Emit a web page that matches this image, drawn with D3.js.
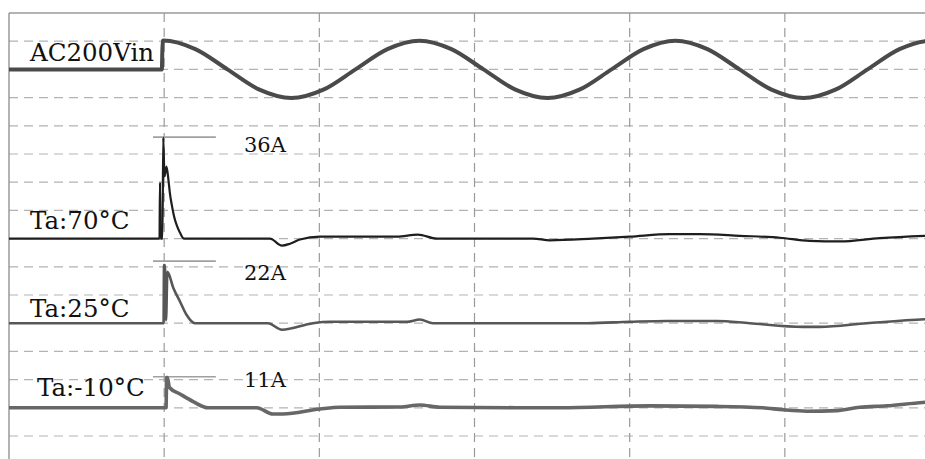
<!DOCTYPE html>
<html>
<head>
<meta charset="utf-8">
<script src="https://cdn.jsdelivr.net/npm/d3@7"></script>
<style>
  html, body { margin: 0; padding: 0; background: #fff; }
  svg { display: block; }
  text { font-family: "DejaVu Serif", "Liberation Serif", serif; fill: #111; }
</style>
</head>
<body>
<svg id="chart" width="925" height="459"></svg>
<script>
// ---------------- data (time in ms, voltage in V, current in A) ----------------
const vinTime = [0, 9.85, 9.9, 9.95, 12.01, 14.08, 16.14, 18.2, 20.26, 22.33, 24.39, 26.45, 28.51, 30.58, 32.64, 34.7, 36.76, 38.83, 40.89, 42.95, 45.01, 47.08, 49.14, 51.2, 53.26, 55.33, 57.39, 59.45, 60];
const vinVolt = [0, 0, 290, 292, 205, 0, -205, -290, -205, 0, 205, 290, 205, 0, -205, -290, -205, 0, 205, 290, 205, 0, -205, -290, -205, 0, 205, 290, 287];

const t70 = [0, 9.70, 9.73, 9.77, 9.89, 9.94, 10.02, 10.15, 10.28, 10.37, 10.50, 10.66, 10.82, 11.02, 11.28, 16.82, 17.59, 18.11, 18.75, 20.04, 25.0, 26.35, 27.58, 33.76, 34.86, 37.63, 40.01, 42.59, 44.52, 47.1, 49.68, 51.6, 53.54, 56.12, 59.0, 60];
const i70 = [0, 0, 19.9, 0, 0, 35.8, 22, 25.5, 20.6, 16, 11.7, 7.4, 4.6, 2.1, 0, 0, -2.5, -1.8, -0.3, 0.7, 0.7, 1.4, 0, 0, -0.6, 0, 0.7, 1.6, 1.6, 1.0, 0.3, -0.8, -1.0, 0.2, 1.0, 1.2];

const t25 = [0, 9.96, 9.99, 10.05, 10.12, 10.21, 10.59, 11.02, 11.45, 11.98, 16.69, 17.59, 19.59, 20.68, 25.64, 26.48, 27.32, 37.31, 40.01, 42.4, 45.62, 47.74, 51.16, 52.26, 55.28, 59.02, 60];
const i25 = [0, 0, 20.6, 20.6, 1, 18.2, 12.5, 7.7, 2.9, 0, 0, -2.3, 0, 0.5, 0.5, 1.3, 0, 0, 0.5, 0.8, 0.8, 0, -1.3, -1.3, 0, 1.4, 1.6];

const tm10 = [0, 10.12, 10.16, 10.21, 10.34, 11.02, 11.87, 12.84, 15.96, 17.01, 17.65, 20.04, 21.33, 25.19, 26.48, 27.77, 35.5, 41.3, 45.62, 48.58, 49.87, 51.42, 53.35, 54.83, 56.57, 58.89, 60];
const im10 = [0, 0, 10.7, 10.7, 7.2, 4.9, 2.2, 0, 0, -2.2, -2.2, -0.4, 0.2, 0.3, 1.0, 0.2, 0, 0.7, 0.5, 0, -0.7, -1.2, -1.0, 0.2, 0.7, 1.9, 2.2];

const traceLabels = ["AC200Vin", "Ta:70°C", "Ta:25°C", "Ta:-10°C"];
const peakLabels = ["36A", "22A", "11A"];
const peakValues = [36, 22, 11];
const timeTicks = [10, 20, 30, 40, 50];

// ---------------- layout ----------------
const W = 925, H = 459;
const svg = d3.select("#chart");
svg.append("rect").attr("width", W).attr("height", H).attr("fill", "#fff");

const x = d3.scaleLinear().domain([0, 60]).range([9, 940]);
const yDiv = d3.scaleLinear().domain([0, 16]).range([13, 464.2]);

// trace settings: baseline (in grid units), units per grid unit
const traces = [
  { t: vinTime, v: vinVolt, base: 2, per: 285, color: "#4a4a4a", width: 4 },
  { t: t70, v: i70, base: 8, per: 10, color: "#1e1e1e", width: 2.2 },
  { t: t25, v: i25, base: 11, per: 10, color: "#575757", width: 2.6 },
  { t: tm10, v: im10, base: 14, per: 10, color: "#676767", width: 3.6 }
];
const yOf = (tr, v) => yDiv(tr.base - v / tr.per);

// ---------------- grid ----------------
const grid = svg.append("g");
grid.selectAll("line.h").data(d3.range(1, 16)).enter().append("line")
  .attr("x1", x(0)).attr("x2", W)
  .attr("y1", d => yDiv(d)).attr("y2", d => yDiv(d))
  .attr("stroke", "#b3b3b3").attr("stroke-width", 1.2)
  .attr("stroke-dasharray", "9,6");
grid.selectAll("line.v").data(timeTicks).enter().append("line")
  .attr("x1", d => x(d)).attr("x2", d => x(d))
  .attr("y1", yDiv(0)).attr("y2", H)
  .attr("stroke", "#9a9a9a").attr("stroke-width", 1.2)
  .attr("stroke-dasharray", "9,6");
// frame
grid.append("line").attr("x1", x(0)).attr("x2", W).attr("y1", yDiv(0)).attr("y2", yDiv(0))
  .attr("stroke", "#9a9a9a").attr("stroke-width", 1.5);
grid.append("line").attr("x1", x(0)).attr("x2", x(0)).attr("y1", yDiv(0)).attr("y2", H)
  .attr("stroke", "#8a8a8a").attr("stroke-width", 1.3);

// ---------------- peak markers ----------------
const markerStart = 9.28, markerEnd = 13.33;
peakValues.forEach((p, i) => {
  const tr = traces[i + 1];
  svg.append("line")
    .attr("x1", x(markerStart)).attr("x2", x(markerEnd))
    .attr("y1", yOf(tr, p)).attr("y2", yOf(tr, p))
    .attr("stroke", "#a0a0a0").attr("stroke-width", 1.6);
});

// ---------------- traces ----------------
traces.forEach(tr => {
  const pts = tr.t.map((t, i) => [t, tr.v[i]]);
  const line = d3.line()
    .x(d => x(d[0]))
    .y(d => yOf(tr, d[1]))
    .curve(d3.curveMonotoneX);
  svg.append("path").datum(pts)
    .attr("d", line)
    .attr("fill", "none")
    .attr("stroke", tr.color)
    .attr("stroke-width", tr.width)
    .attr("stroke-linejoin", "round");
});

// ---------------- labels ----------------
const labelPos = [
  { x: 30, y: 61 }, { x: 30, y: 229 }, { x: 30, y: 317 }, { x: 37, y: 396 }
];
traceLabels.forEach((s, i) => {
  svg.append("text").attr("x", labelPos[i].x).attr("y", labelPos[i].y)
    .attr("font-size", 24.5).text(s);
});
const peakLabelPos = [{ x: 244, y: 152 }, { x: 244, y: 280 }, { x: 244, y: 387 }];
peakLabels.forEach((s, i) => {
  svg.append("text").attr("x", peakLabelPos[i].x).attr("y", peakLabelPos[i].y)
    .attr("font-size", 21).text(s);
});
</script>
</body>
</html>
